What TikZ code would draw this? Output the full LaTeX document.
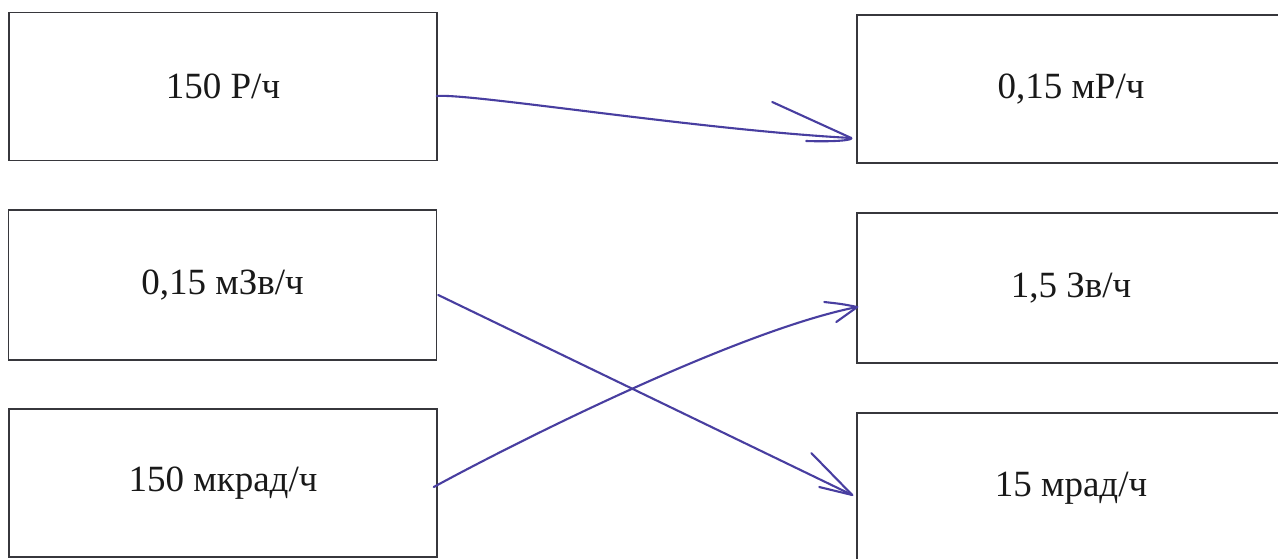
\documentclass[tikz,border=0pt]{standalone}
\usepackage{fontspec}
\setmainfont{Liberation Serif}
\usetikzlibrary{calc}
\definecolor{ink}{RGB}{72,62,160}
\definecolor{boxline}{RGB}{55,55,60}
\tikzset{
  valbox/.style={draw=boxline, line width=1.5pt, minimum width=428pt, minimum height=148pt,
    inner sep=0pt, font=\fontsize{37}{40}\selectfont, text=black!90},
  pen/.style={draw=ink, line width=2.1pt, line cap=round, line join=round}
}
\begin{document}
\begin{tikzpicture}[x=1pt,y=-1pt]
\useasboundingbox (0,0) rectangle (1278,558);
\clip (0,0) rectangle (1278,558);
\fill[white] (0,0) rectangle (1278,558);
% left column
\node[valbox] (L1) at (223,86.5) {150 Р/ч};
\node[valbox, minimum height=150pt] (L2) at (222.5,285) {0,15 мЗв/ч};
\node[valbox] (L3) at (223,483) {150 мкрад/ч};
% right column
\node[valbox] (R1) at (1071,89) {0,15 мР/ч};
\node[valbox, minimum height=150pt] (R2) at (1071,288) {1,5 Зв/ч};
\node[valbox, minimum height=150pt] (R3) at (1071,488) {15 мрад/ч};
% connector end points
\coordinate (a1s) at ($(L1.east)+(-1,9.5)$);
\coordinate (a1t) at ($(R1.west)+(-5,49)$);
\coordinate (a2s) at ($(L2.east)+(1,10)$);
\coordinate (a2t) at ($(R3.west)+(-4,7)$);
\coordinate (a3s) at ($(L3.east)+(-4,4)$);
\coordinate (a3t) at ($(R2.west)+(1,19)$);
% arrow 1: 150 Р/ч -> 0,15 мР/ч
\draw[pen] (a1s) .. controls (470,93) and (700,130) .. (a1t);
\draw[pen] ($(a1t)+(-79,-36)$) .. controls ($(a1t)+(-40,-18)$) .. (a1t);
\draw[pen] ($(a1t)+(-45,3)$) .. controls ($(a1t)+(-15,4)$) and ($(a1t)+(2,2)$) .. (a1t);
% arrow 2: 0,15 мЗв/ч -> 15 мрад/ч
\draw[pen] (a2s) -- (a2t);
\draw[pen] ($(a2t)+(-41,-42)$) -- (a2t);
\draw[pen] ($(a2t)+(-33,-8)$) -- (a2t);
% arrow 3: 150 мкрад/ч -> 1,5 Зв/ч
\draw[pen] (a3s) .. controls (520,440) and (740,330) .. (a3t);
\draw[pen] ($(a3t)+(-33,-5)$) .. controls ($(a3t)+(-15,-3)$) .. (a3t);
\draw[pen] ($(a3t)+(-21,15)$) -- (a3t);
\end{tikzpicture}
\end{document}
